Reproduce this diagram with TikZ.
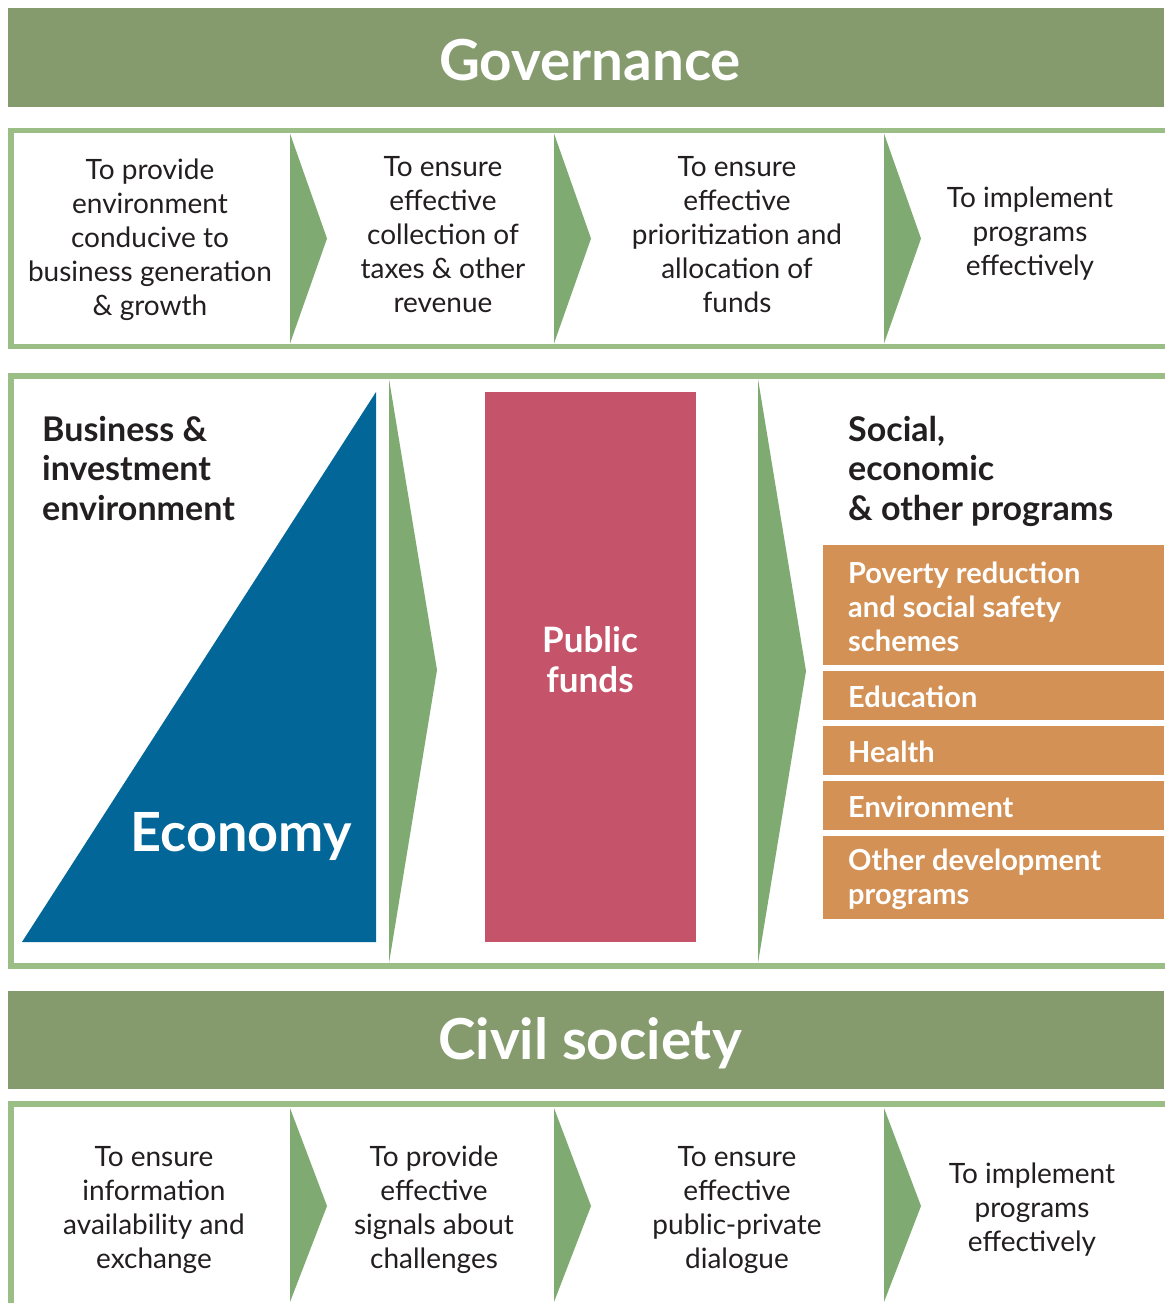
\documentclass[tikz,border=0pt]{standalone}
\usepackage{fontspec}
\setmainfont{Lato}
\definecolor{band}{HTML}{869B6D}
\definecolor{frame}{HTML}{9BBE87}
\definecolor{arrowg}{HTML}{7FAA72}
\definecolor{econ}{HTML}{036698}
\definecolor{funds}{HTML}{C5536A}
\definecolor{prog}{HTML}{D39155}
\definecolor{ink}{HTML}{231F20}
\begin{document}
\begin{tikzpicture}[x=1pt,y=-1pt,
  bandbox/.style={fill=band,draw=none},
  framebox/.style={draw=frame,line width=5.5pt},
  chev/.style={fill=arrowg,draw=none},
  stepbody/.style={align=center,text=ink,font=\fontsize{28}{34}\selectfont,inner sep=0pt},
  bigtitle/.style={text=white,font=\bfseries\fontsize{56.5}{60}\selectfont,inner sep=0pt},
  heading/.style={align=left,text=ink,anchor=north west,font=\bfseries\fontsize{34}{39.5}\selectfont,inner sep=0pt},
  progbox/.style={fill=prog,draw=none},
  progtext/.style={align=left,text=white,anchor=west,font=\bfseries\fontsize{29}{34}\selectfont,inner sep=0pt}]
\useasboundingbox (0,0) rectangle (1164,1303);
\fill[white] (0,0) rectangle (1164,1303);
% Governance band
\fill[bandbox] (8,8) rectangle (1164,107);
\node[bigtitle] (gov) at (590,60) {Governance};
% top frame
\draw[framebox] (1170,130.75) -- (10.75,130.75) -- (10.75,346.25) -- (1170,346.25);
\fill[chev] (290,133.5) -- (327,238.5) -- (290,343.5) -- cycle;
\fill[chev] (554,133.5) -- (591,238.5) -- (554,343.5) -- cycle;
\fill[chev] (884,133.5) -- (921,238.5) -- (884,343.5) -- cycle;
\node[stepbody] (g1) at (150,240) {To provide\\environment\\conducive to\\business generation\\\& growth};
\node[stepbody] (g2) at (443,235) {To ensure\\effective\\collection of\\taxes \& other\\revenue};
\node[stepbody] (g3) at (737,235) {To ensure\\effective\\prioritization and\\allocation of\\funds};
\node[stepbody] (g4) at (1030,234) {To implement\\programs\\effectively};
% middle frame
\draw[framebox] (1170,376) -- (10.75,376) -- (10.75,966) -- (1170,966);
\fill[econ] (22,942) -- (376,942) -- (376,392) -- cycle;
\fill[chev] (389,379) -- (437,670) -- (389,963) -- cycle;
\fill[chev] (758,379) -- (806,671) -- (758,963) -- cycle;
\fill[funds] (485,392) rectangle (696,942);
\node[heading] (bie) at (42,416) {Business \&\\investment\\environment};
\node[bigtitle,font=\bfseries\fontsize{54}{60}\selectfont] (eco) at (241,836) {Economy};
\node[align=center,text=white,font=\bfseries\fontsize{35}{40}\selectfont,inner sep=0pt] (pf) at (590,660) {Public\\funds};
\node[heading] (soc) at (848,416) {Social,\\economic\\\& other programs};
\fill[progbox] (823,545) rectangle (1164,664.5);
\fill[progbox] (823,671) rectangle (1164,719.5);
\fill[progbox] (823,726) rectangle (1164,774.5);
\fill[progbox] (823,781) rectangle (1164,830);
\fill[progbox] (823,836) rectangle (1164,919);
\node[progtext] (p1) at (848,607) {Poverty reduction\\and social safety\\schemes};
\node[progtext] (p2) at (848,697) {Education};
\node[progtext] (p3) at (848,752) {Health};
\node[progtext] (p4) at (848,807) {Environment};
\node[progtext] (p5) at (848,879) {Other development\\programs};
% Civil society band
\fill[bandbox] (8,991) rectangle (1164,1089);
\node[bigtitle] (civ) at (590,1043) {Civil society};
% bottom frame
\draw[framebox] (1170,1104) -- (10.75,1104) -- (10.75,1310);
\fill[chev] (290,1108) -- (327,1206) -- (290,1302) -- cycle;
\fill[chev] (554,1108) -- (591,1206) -- (554,1302) -- cycle;
\fill[chev] (884,1108) -- (921,1206) -- (884,1302) -- cycle;
\node[stepbody] (c1) at (154,1210) {To ensure\\information\\availability and\\exchange};
\node[stepbody] (c2) at (434,1210) {To provide\\effective\\signals about\\challenges};
\node[stepbody] (c3) at (737,1210) {To ensure\\effective\\public-private\\dialogue};
\node[stepbody] (c4) at (1032,1210) {To implement\\programs\\effectively};
\end{tikzpicture}
\end{document}
